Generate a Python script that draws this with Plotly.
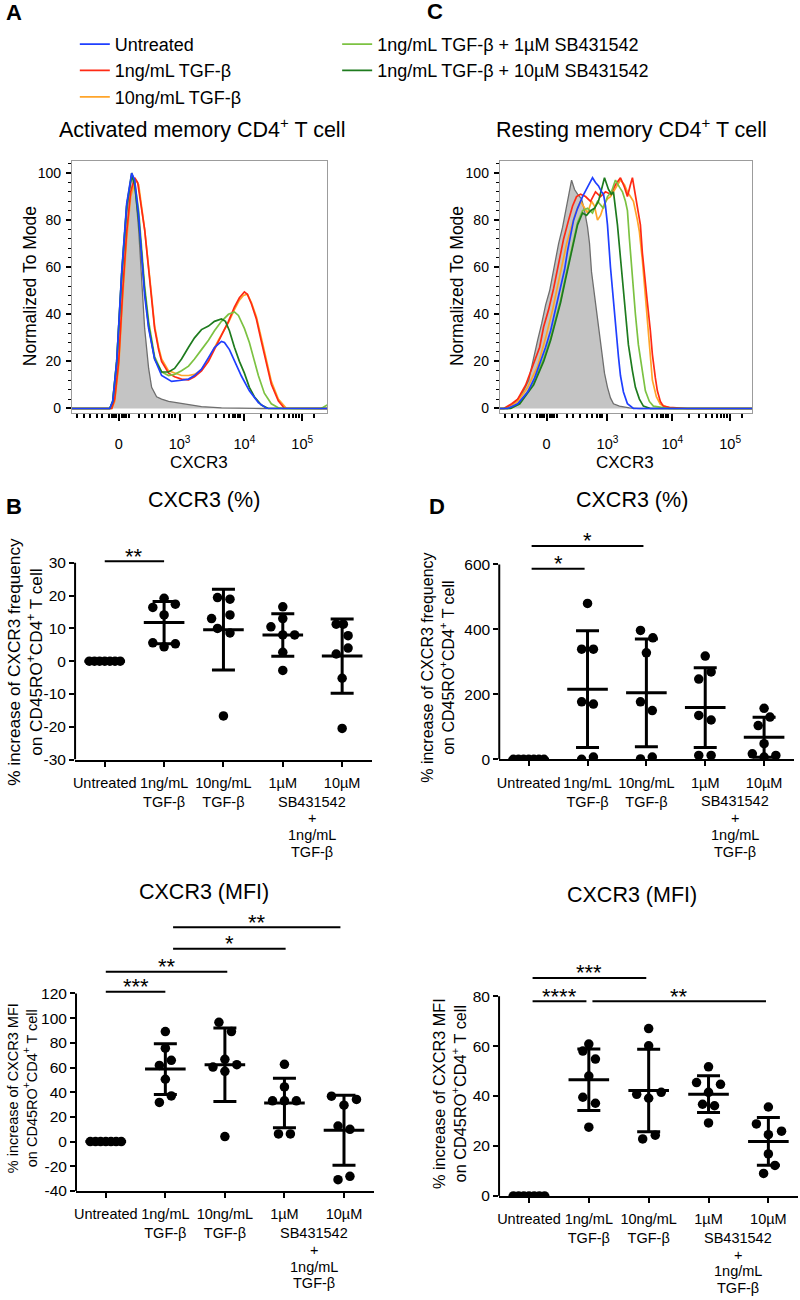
import numpy as np
import plotly.graph_objects as go

W, H = 800, 1300
FONT = "Liberation Sans, Arial, Helvetica, sans-serif"

# ---------------- Flow histograms (x = display channel of the biexponential CXCR3 axis, y = % of mode) -------------
conditions = ["Untreated", "1ng/mL TGF-β", "10ng/mL TGF-β",
              "1ng/mL TGF-β + 1µM SB431542", "1ng/mL TGF-β + 10µM SB431542"]
cond_colors = ["#1f3fff", "#ff2a14", "#ffa52a", "#7cc242", "#1e7b1e"]

# Activated memory CD4+ T cells
act_ctrl_x = [0, 38, 41, 45, 50, 55, 60, 63, 67, 70, 73, 77, 80, 85, 90, 97, 113, 130, 150, 163, 190, 256]
act_ctrl_y = [0, 0, 2, 17, 55, 83, 100, 96, 76, 55, 34, 17, 9, 5, 4, 3, 1.8, 0.8, 0.3, 0.1, 0, 0]

act_unt_x = [0, 38, 41, 45, 50, 55, 60, 63, 67, 70, 73, 77, 83, 90, 100, 110, 117, 123, 130, 137, 143, 150, 153, 158, 163, 170, 178, 187, 195, 256]
act_unt_y = [0, 0, 3, 20, 58, 87, 100, 97, 82, 65, 48, 34, 21, 14, 11.5, 12, 12.5, 14, 16.7, 21.6, 25.9, 28.5, 28, 25, 20, 13.8, 7.5, 2.5, 0.1, 0]

act_tgf1_x = [0, 40, 43, 47, 51, 55, 59, 63, 66, 70, 73, 78, 83, 87, 90, 97, 103, 110, 117, 123, 130, 137, 147, 157, 163, 168, 173, 176, 180, 185, 190, 195, 200, 207, 213, 256]
act_tgf1_y = [0, 0, 4, 20, 50, 75, 92, 98, 96, 85, 76, 55, 34, 25, 20, 15, 13.5, 12.5, 12.2, 13.5, 16, 20, 28.5, 37, 43, 47, 49.5, 48.5, 44.5, 38, 28.5, 18.7, 10.3, 3.3, 0.1, 0]

act_tgf10_x = [0, 40, 43, 47, 51, 55, 59, 64, 67, 70, 73, 78, 83, 87, 90, 97, 103, 110, 117, 123, 130, 137, 147, 157, 163, 168, 172, 176, 180, 185, 190, 195, 200, 207, 215, 256]
act_tgf10_y = [0, 0, 3, 18, 47, 72, 90, 97, 95, 86, 76, 56, 35, 26, 21, 16, 15, 14, 14, 14.5, 16.5, 21, 29, 36.5, 42, 46, 48, 48.5, 45, 39, 30, 20, 11.5, 4, 0.1, 0]

act_sb1_x = [0, 38, 41, 45, 50, 55, 60, 63, 67, 70, 73, 77, 83, 90, 97, 103, 110, 117, 123, 130, 137, 143, 150, 157, 163, 167, 173, 178, 183, 187, 193, 200, 207, 212, 250, 254, 256]
act_sb1_y = [0, 0, 3, 20, 57, 86, 100, 96, 84, 68, 52, 37, 22, 15.5, 14, 14.5, 16, 18, 21, 25, 29, 33, 37, 40, 41, 39.5, 34, 28, 20, 14, 6.5, 2, 0.3, 0, 0, 1, 1.5]

act_sb10_x = [0, 38, 41, 45, 50, 55, 60, 63, 67, 70, 73, 77, 83, 90, 97, 103, 110, 117, 123, 130, 137, 143, 150, 154, 158, 163, 168, 173, 178, 183, 190, 197, 256]
act_sb10_y = [0, 0, 3, 20, 57, 86, 99, 95, 80, 66, 50, 35, 21, 15.5, 15.5, 17, 21, 26, 30, 33.5, 35, 37, 38, 37, 33, 26, 20, 15, 9, 5, 1.5, 0, 0]

# Resting memory CD4+ T cells
rest_ctrl_x = [0, 5, 14, 22, 29, 33, 38, 42, 46, 50, 55, 59, 63, 66, 68, 70, 72, 75, 78, 82, 85, 88, 90, 92, 95, 98, 101, 103, 105, 108, 111, 114, 120, 130, 140, 253]
rest_ctrl_y = [0, 0, 2, 6, 12, 20, 29, 36, 44, 50, 62, 70, 77, 84, 89, 93, 97, 93, 91, 89, 84, 77, 70, 58, 48, 40, 30, 23, 15, 9, 4.5, 2, 1, 0.3, 0, 0]

rest_unt_x = [0, 8, 18, 28, 35, 41, 46, 51, 56, 61, 65, 68, 71, 74, 78, 83, 88, 93, 96, 99, 102, 104, 106, 108, 111, 114, 116, 119, 121, 124, 128, 134, 253]
rest_unt_y = [0, 0, 2, 7, 13, 20, 26, 33, 42, 51, 59, 67, 74, 80, 85, 90, 94, 98, 96, 94.5, 92, 91, 86, 78, 60, 45, 35, 22, 14, 7, 2, 0, 0]

rest_tgf1_x = [0, 4, 12, 18, 26, 34, 40, 44, 49, 54, 59, 64, 69, 73, 77, 81, 86, 91, 96, 101, 106, 111, 116, 121, 125, 128, 131, 133, 135, 138, 141, 143, 146, 148, 151, 153, 156, 158, 161, 164, 170, 178, 188, 253]
rest_tgf1_y = [0, 0, 2, 4, 10, 19, 26, 34.7, 42, 51, 61, 72, 80, 86, 90, 91, 90, 88, 92, 90, 92, 91, 95, 98, 94, 90, 95, 98, 93, 85, 78, 66, 52, 45, 33, 23, 13, 7.5, 3, 1, 0.5, 0.2, 0, 0]

rest_tgf10_x = [0, 8, 18, 28, 38, 46, 53, 58, 63, 67, 71, 76, 81, 85, 88, 92, 95, 98, 101, 105, 108, 111, 114, 118, 121, 125, 128, 131, 134, 138, 140, 143, 146, 148, 151, 153, 157, 161, 168, 175, 253]
rest_tgf10_y = [0, 0, 3, 9, 18, 30, 42, 52, 62, 70, 76, 83, 88, 85, 83, 88, 86, 80, 82, 87, 89, 90, 92, 95, 97, 95, 92, 90, 88, 80, 75, 63, 48, 35, 20, 12, 5, 1.8, 0.5, 0, 0]

rest_sb1_x = [0, 10, 20, 34, 44, 51, 56, 61, 66, 71, 75, 78, 83, 88, 93, 98, 104, 108, 112, 116, 120, 123, 126, 128, 130, 133, 136, 139, 143, 146, 150, 154, 170, 253]
rest_sb1_y = [0, 0, 2, 11, 21, 30, 38, 46, 56, 66, 73, 79, 84, 85, 83, 88, 85, 90, 92, 97, 94, 92, 88, 84, 72, 55, 40, 27, 15, 7.5, 3, 1, 0, 0]

rest_sb10_x = [0, 11, 20, 34, 44, 51, 56, 61, 66, 71, 75, 78, 83, 87, 91, 95, 99, 102, 105, 109, 112, 114, 116, 118, 121, 123, 126, 129, 133, 136, 140, 144, 151, 253]
rest_sb10_y = [0, 0, 2, 10, 20, 29, 37, 45, 55, 65, 72, 78, 83, 82, 84, 85, 88, 93, 98, 93, 91, 92, 86, 78, 64, 55, 40, 27, 16, 9, 4, 1, 0, 0]

hist_tick_vals = [47, 108, 173, 231]
hist_tick_text = ["0", "10<sup>3</sup>", "10<sup>4</sup>", "10<sup>5</sup>"]
hist_minor_vals = [5, 12, 18, 25, 30, 37, 40, 42, 44, 50, 52, 54, 57, 67, 73, 80, 87, 92, 97, 100, 103,
                   123, 137, 145, 153, 158, 162, 164, 167, 169, 190, 200, 207, 213, 218, 222, 225, 228, 243]

# ---------------- Dot plots (% increase vs untreated, n = 7 donors) ----------------
group_ticks = ["Untreated", "1ng/mL<br>TGF-β", "10ng/mL<br>TGF-β", "1µM", "10µM"]
sb_lines = ["SB431542", "+", "1ng/mL", "TGF-β"]

act_freq = [
    [0, 0, 0, 0, 0, 0, 0],
    [16.4, 19.2, 17.4, 14.1, 5.6, 4.4, 5.3],
    [13.0, 19.4, 18.9, 14.1, 10.0, 8.6, -16.7],
    [10.5, 16.6, 13.0, 8.0, 8.0, 2.7, -2.8],
    [11.3, 11.3, 7.8, 4.0, 2.2, -5.2, -20.5],
]
rest_freq = [
    [0, 0, 0, 0, 0, 0, 0],
    [480, 339, 339, 177, 170, 0, 7],
    [397, 374, 328, 177, 150, 1, 7],
    [318, 247, 269, 135, 121, 12, 12],
    [157, 104, 130, 48, 17, 7, 12],
]
act_mfi = [
    [0, 0, 0, 0, 0, 0, 0],
    [89.1, 75.7, 61.7, 65.8, 50.5, 37.0, 31.7],
    [96.6, 89.1, 60.4, 66.6, 56.9, 62.3, 4.0],
    [62.6, 44.3, 33.0, 33.0, 33.0, 6.2, 6.2],
    [36.8, 34.1, 29.5, 12.6, 9.9, -30.9, -28.2],
]
rest_mfi = [
    [0, 0, 0, 0, 0, 0, 0],
    [60.8, 58.0, 54.8, 48.0, 39.5, 37.1, 27.5],
    [67.0, 60.1, 40.7, 41.5, 39.1, 22.8, 24.3],
    [51.7, 45.4, 44.7, 41.5, 36.7, 36.1, 29.2],
    [35.6, 28.8, 25.9, 24.5, 16.8, 12.2, 9.0],
]

# significance brackets: (from group, to group, label, bracket height)
act_freq_sig = [(0, 1, "**", 30.5)]
rest_freq_sig = [(0.05, 0.95, "*", 587), (0.05, 1.95, "*", 657)]
act_mfi_sig = [(0, 1, "***", 121.3), (0, 2.04, "**", 137.7), (1.13, 3.02, "*", 156.2), (1.13, 3.94, "**", 173.7)]
rest_mfi_sig = [(0.06, 0.96, "****", 78), (0.06, 1.96, "***", 87.3), (1.06, 3.96, "**", 78)]

# horizontal scatter of the dots within each group (category units)
unt_dx = [-0.26, -0.173, -0.087, 0, 0.087, 0.173, 0.26]
act_freq_dx = [unt_dx,
               [-0.19, 0, 0.19, 0, -0.19, 0, 0.19],
               [-0.2, -0.1, 0.11, 0.11, -0.1, 0.11, 0],
               [-0.2, 0, 0, 0, 0.2, 0, 0],
               [-0.1, 0.02, 0.1, 0.1, -0.1, 0, 0]]
rest_freq_dx = [unt_dx,
                [0, -0.1, 0.1, -0.1, 0.1, -0.1, 0.1],
                [-0.1, 0.11, 0, -0.1, 0.1, -0.1, 0.1],
                [0, -0.11, 0.1, -0.11, 0.1, -0.11, 0.1],
                [0, -0.1, 0.1, 0, -0.2, 0, 0.2]]
act_mfi_dx = [unt_dx,
              [0, 0, -0.1, 0.1, 0, 0.1, -0.1],
              [-0.1, 0.11, -0.2, 0, 0, 0.2, 0],
              [0, 0, -0.2, 0, 0.2, -0.1, 0.1],
              [-0.21, 0.21, 0, -0.1, 0.1, -0.1, 0.1]]
rest_mfi_dx = [unt_dx,
               [0, -0.1, 0.11, 0, -0.1, 0.11, 0],
               [0, 0, -0.2, 0.21, 0, -0.1, 0.11],
               [0, -0.2, 0.2, 0, -0.1, 0.1, 0],
               [0, -0.2, 0.22, 0, 0, 0.11, -0.08]]


def px_x(p):
    return p / W


def px_y(p):
    return 1 - p / H


fig = go.Figure()

# ---------------- histograms ----------------
act_curves = [(act_unt_x, act_unt_y), (act_tgf1_x, act_tgf1_y), (act_tgf10_x, act_tgf10_y),
              (act_sb1_x, act_sb1_y), (act_sb10_x, act_sb10_y)]
rest_curves = [(rest_unt_x, rest_unt_y), (rest_tgf1_x, rest_tgf1_y), (rest_tgf10_x, rest_tgf10_y),
               (rest_sb1_x, rest_sb1_y), (rest_sb10_x, rest_sb10_y)]
draw_order = [2, 1, 3, 4, 0]

for n, (cx, cy), curves in [(1, (act_ctrl_x, act_ctrl_y), act_curves),
                            (2, (rest_ctrl_x, rest_ctrl_y), rest_curves)]:
    xa = "x" if n == 1 else "x2"
    ya = "y" if n == 1 else "y2"
    fig.add_trace(go.Scatter(x=cx, y=cy, mode="lines", fill="tozeroy", fillcolor="#c4c4c4",
                             line=dict(color="#6e6e6e", width=1.3), xaxis=xa, yaxis=ya,
                             showlegend=False, hoverinfo="skip"))
    for i in draw_order:
        x, y = curves[i]
        fig.add_trace(go.Scatter(
            x=x, y=y, mode="lines", name=conditions[i],
            line=dict(color=cond_colors[i], width=1.7),
            xaxis=xa, yaxis=ya,
            showlegend=(n == 1),
            legend="legend" if i < 3 else "legend2",
            legendrank=i + 1,
        ))

hist_x_common = dict(
    showline=True, mirror=True, linecolor="#9c9c9c", linewidth=1,
    ticks="outside", tickmode="array", tickvals=hist_tick_vals, ticktext=hist_tick_text,
    ticklen=7, tickwidth=2, tickcolor="black", ticklabelstandoff=10,
    tickfont=dict(size=14.5, color="black"),
    minor=dict(tickmode="array", tickvals=hist_minor_vals, ticks="outside",
               ticklen=4, tickwidth=1.5, tickcolor="black"),
    showgrid=False, zeroline=False,
)
hist_y_common = dict(
    showline=True, mirror=True, linecolor="#9c9c9c", linewidth=1,
    ticks="outside", tickvals=[0, 20, 40, 60, 80, 100], ticklen=5, tickwidth=1.5, tickcolor="black",
    tickfont=dict(size=14, color="black"), ticklabelstandoff=2,
    minor=dict(dtick=4, tick0=0, ticks="outside", ticklen=3, tickwidth=1, tickcolor="black"),
    range=[-2.1, 105.1], showgrid=False, zeroline=False,
)
fig.update_layout(
    xaxis=dict(domain=[px_x(70), px_x(326)], range=[0, 256], anchor="y", **hist_x_common),
    yaxis=dict(domain=[px_y(416), px_y(162)], anchor="x", **hist_y_common),
    xaxis2=dict(domain=[px_x(499), px_x(752)], range=[0, 253], anchor="y2", **hist_x_common),
    yaxis2=dict(domain=[px_y(416), px_y(162)], anchor="x2", **hist_y_common),
)

# ---------------- dot plots ----------------
annotations = []
shapes = []


def add_dot_panel(n, values, offsets, comparisons, xdom, ybottom_px, ppu, yrange, yticks, ytitle, ytitle_pos,
                  ytitle_size):
    xa, ya = f"x{n}", f"y{n}"
    means = [float(np.mean(v)) for v in values]
    sds = [float(np.std(v, ddof=1)) for v in values]
    fig.add_trace(go.Scatter(
        x=list(range(len(values))), y=means, mode="markers",
        marker=dict(symbol="line-ew", size=29, color="black", line=dict(width=3, color="black")),
        error_y=dict(type="data", array=sds, visible=True, color="black", thickness=3, width=11.5),
        xaxis=xa, yaxis=ya, showlegend=False, hoverinfo="skip"))
    for gi, (vals, offs) in enumerate(zip(values, offsets)):
        fig.add_trace(go.Scatter(
            x=[gi + o for o in offs], y=vals, mode="markers",
            marker=dict(color="black", size=9.5), xaxis=xa, yaxis=ya, showlegend=False,
            name=group_ticks[gi].replace("<br>", " ")))
    for (a, b, label, h) in comparisons:
        fig.add_trace(go.Scatter(x=[a, b], y=[h, h], mode="lines", line=dict(color="black", width=2),
                                 xaxis=xa, yaxis=ya, showlegend=False, hoverinfo="skip"))
        annotations.append(dict(x=(a + b) / 2, y=h, xref=xa, yref=ya, text=label, showarrow=False,
                                yanchor="middle", yshift=5, font=dict(size=22, color="black")))
    ytop_px = ybottom_px - (yrange[1] - yrange[0]) * ppu
    fig.layout[f"xaxis{n}"] = dict(
        domain=[px_x(xdom[0]), px_x(xdom[1])], range=[-0.5, 4.5], anchor=ya,
        showline=True, linewidth=2, linecolor="black", ticks="outside", ticklen=5, tickwidth=2,
        tickcolor="black", tickvals=[0, 1, 2, 3, 4], ticktext=group_ticks, ticklabelstandoff=4,
        tickfont=dict(size=14.5, color="black"), showgrid=False, zeroline=False)
    fig.layout[f"yaxis{n}"] = dict(
        domain=[px_y(ybottom_px), px_y(ytop_px)], range=yrange, anchor=xa,
        showline=False, ticks="outside", ticklen=5, tickwidth=2, tickcolor="black",
        tickvals=yticks, ticktext=[str(t) for t in yticks], tickfont=dict(size=15.5, color="black"),
        showgrid=False, zeroline=False)
    shapes.append(dict(type="line", xref=f"{xa} domain", yref=ya, x0=0, x1=0, y0=yticks[0], y1=yticks[-1],
                       line=dict(color="black", width=2)))
    # shared second part of the two SB431542 group labels
    for li, line in enumerate(sb_lines):
        annotations.append(dict(x=3.5, y=0, xref=xa, yref=f"{ya} domain", text=line, showarrow=False,
                                yanchor="middle", yshift=-(42 + 16.8 * li),
                                font=dict(size=14.5, color="black")))
    annotations.append(dict(x=px_x(ytitle_pos[0]), y=px_y(ytitle_pos[1]), xref="paper", yref="paper",
                            text=ytitle, textangle=-90, showarrow=False, xanchor="center", yanchor="middle",
                            font=dict(size=ytitle_size, color="black")))


freq_title = "% increase of CXCR3 frequency<br>on CD45RO<sup>+</sup>CD4<sup>+</sup> T cell"
mfi_title = "% increase of CXCR3 MFI<br>on CD45RO<sup>+</sup>CD4<sup>+</sup> T cell"

add_dot_panel(3, act_freq, act_freq_dx, act_freq_sig, (73.25, 370.75), 764.3, 3.3, [-30, 36],
              [-30, -20, -10, 0, 10, 20, 30], freq_title, (23, 666), 17.2)
add_dot_panel(4, rest_freq, rest_freq_dx, rest_freq_sig, (498.5, 793.5), 764, 0.3267, [0, 690],
              [0, 200, 400, 600], freq_title, (437, 672), 16)
add_dot_panel(5, act_mfi, act_mfi_dx, act_mfi_sig, (74.2, 372.7), 1198.3, 1.2417, [-40, 185],
              [-40, -20, 0, 20, 40, 60, 80, 100, 120], mfi_title, (20, 1095), 14.5)
add_dot_panel(6, rest_mfi, rest_mfi_dx, rest_mfi_sig, (498.3, 798.3), 1203.3, 2.5125, [0, 92],
              [0, 20, 40, 60, 80], mfi_title, (448, 1100), 16.3)

# ---------------- titles and labels ----------------
def text_at(x, y, text, size, bold=False, angle=0):
    annotations.append(dict(x=px_x(x), y=px_y(y), xref="paper", yref="paper", text=f"<b>{text}</b>" if bold else text,
                            showarrow=False, xanchor="center", yanchor="middle", textangle=angle,
                            font=dict(size=size, color="black")))


text_at(12, 13, "A", 22, bold=True)
text_at(434, 12, "C", 22, bold=True)
text_at(12, 510, "B", 22, bold=True)
text_at(436, 510, "D", 22, bold=True)
text_at(200, 129, "Activated memory CD4<sup>+</sup> T cell", 21.5)
text_at(631, 129, "Resting memory CD4<sup>+</sup> T cell", 21.5)
text_at(28, 288, "Normalized To Mode", 17.5, angle=-90)
text_at(456, 288, "Normalized To Mode", 17.5, angle=-90)
text_at(197, 465, "CXCR3", 17)
text_at(625, 465, "CXCR3", 17)
text_at(203, 503, "CXCR3 (%)", 21.5)
text_at(632, 503, "CXCR3 (%)", 21.5)
text_at(203, 898, "CXCR3 (MFI)", 21.5)
text_at(632, 901, "CXCR3 (MFI)", 21.5)

fig.update_layout(
    width=W, height=H, margin=dict(l=0, r=0, t=0, b=0),
    paper_bgcolor="white", plot_bgcolor="white",
    font=dict(family=FONT, color="black"),
    annotations=annotations, shapes=shapes,
    legend=dict(x=px_x(73), y=px_y(26), xanchor="left", yanchor="top", orientation="v",
                font=dict(size=18, color="black"), bgcolor="rgba(0,0,0,0)", traceorder="normal",
                tracegroupgap=0),
    legend2=dict(x=px_x(336), y=px_y(26), xanchor="left", yanchor="top", orientation="v",
                 font=dict(size=18, color="black"), bgcolor="rgba(0,0,0,0)", traceorder="normal",
                 tracegroupgap=0),
)

fig.write_html("out.html", config={"displayModeBar": False},
               post_script="document.body.style.margin='0px';document.body.style.overflow='hidden';")
